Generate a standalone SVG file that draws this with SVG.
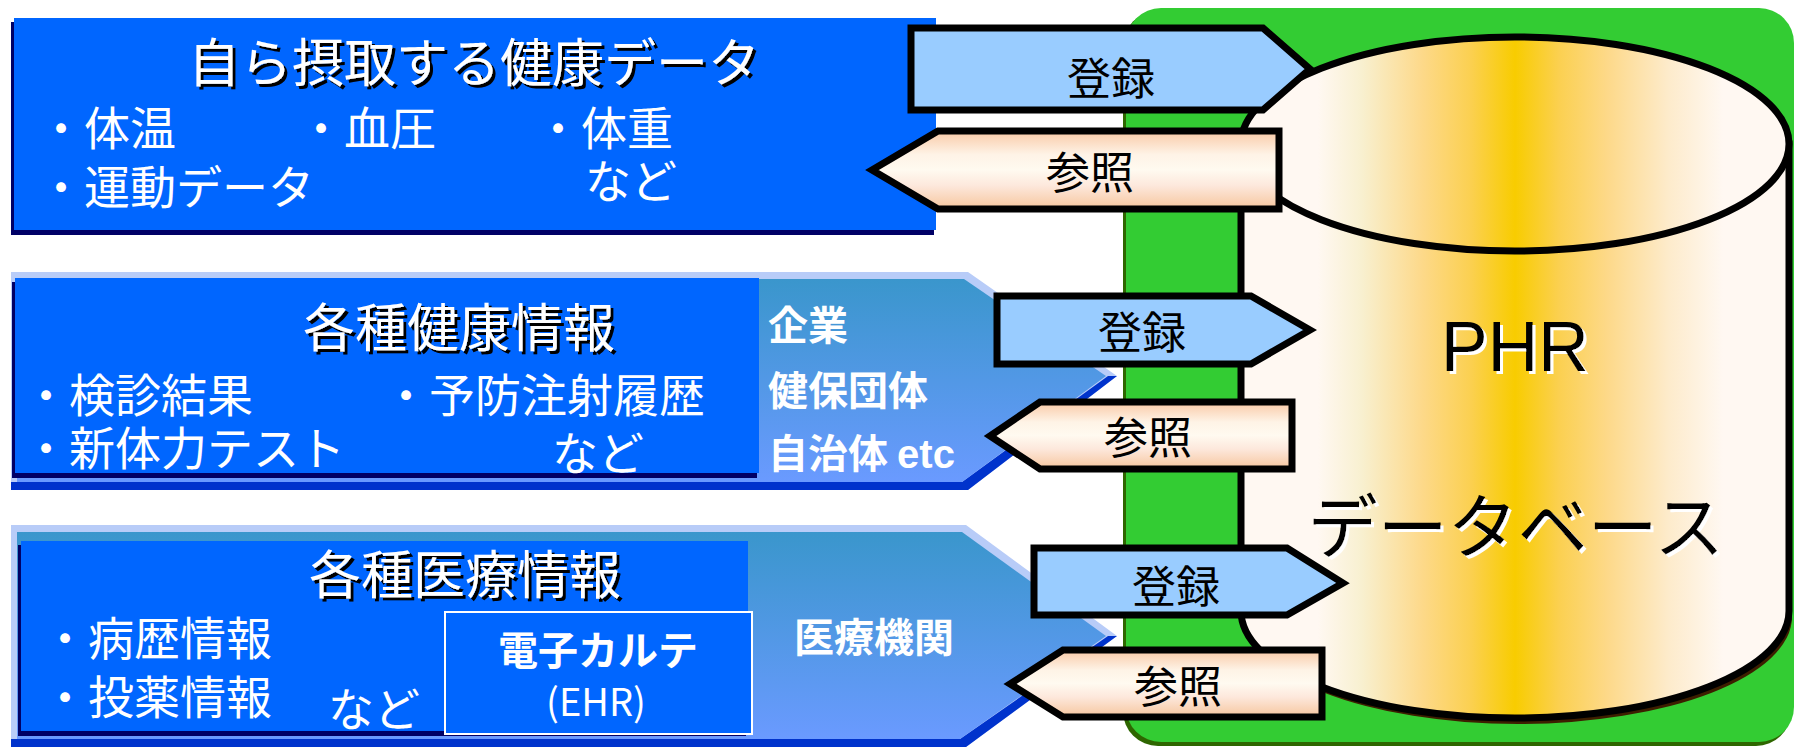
<svg xmlns="http://www.w3.org/2000/svg" width="1797" height="750" viewBox="0 0 1797 750">
<defs>
<style>
.jp{font-family:"Noto Sans CJK JP","Noto Sans",sans-serif}
.title{font-size:52px;fill:#fff;filter:url(#blk)}
.bul{font-size:46px;fill:#fff}
.org{font-size:40px;fill:#fff;font-weight:bold}
.ehr{font-size:38px;fill:#fff;font-weight:normal}
.lbl{font-size:44px;fill:#000;text-anchor:middle}
.db{font-size:70px;fill:#000;text-anchor:middle;filter:url(#wht)}
.reg{fill:#99CCFF;stroke:#000;stroke-width:7;stroke-linejoin:miter}
.ref{fill:url(#peach);stroke:#000;stroke-width:7;stroke-linejoin:miter}
.box{fill:#0066FF}
.boxsh{fill:#000066}
</style>
<filter id="blk" x="-10%" y="-20%" width="130%" height="150%">
<feDropShadow dx="3" dy="3" stdDeviation="0" flood-color="#000" flood-opacity="1"/>
</filter>
<filter id="wht" x="-10%" y="-20%" width="130%" height="150%">
<feDropShadow dx="3" dy="3" stdDeviation="0" flood-color="#fff" flood-opacity="1"/>
</filter>
<linearGradient id="peach" x1="0" y1="0" x2="0" y2="1">
<stop offset="0" stop-color="#F9C9A6"/>
<stop offset="0.3" stop-color="#FEF3E6"/>
<stop offset="0.5" stop-color="#FFFAF0"/>
<stop offset="0.7" stop-color="#FDE8DC"/>
<stop offset="1" stop-color="#F6C69E"/>
</linearGradient>
<linearGradient id="gold" x1="1241" y1="0" x2="1789" y2="0" gradientUnits="userSpaceOnUse">
<stop offset="0" stop-color="#FFF8F2"/>
<stop offset="0.14" stop-color="#FFF8F2"/>
<stop offset="0.22" stop-color="#F8F0D0"/>
<stop offset="0.33" stop-color="#FDD98A"/>
<stop offset="0.42" stop-color="#FBD050"/>
<stop offset="0.5" stop-color="#F8CC00"/>
<stop offset="0.58" stop-color="#FBD050"/>
<stop offset="0.67" stop-color="#FDD98A"/>
<stop offset="0.78" stop-color="#FDEBCB"/>
<stop offset="0.88" stop-color="#FFF8F2"/>
<stop offset="1" stop-color="#FFF8F2"/>
</linearGradient>
<linearGradient id="penta" x1="0" y1="0" x2="0" y2="1">
<stop offset="0" stop-color="#3A96CC"/>
<stop offset="1" stop-color="#6A9AFF"/>
</linearGradient>
</defs>

<g id="phr-database">
<rect x="1123" y="11" width="668" height="735" rx="35" fill="#2E6600"/>
<rect x="1126" y="8" width="668" height="734" rx="35" fill="#33CC33"/>
<path d="M1244,150 V617 A274,107 0 0 0 1792,617 V150 Z" fill="#3D1E00"/>
<path d="M1241,144 V611 A274,107 0 0 0 1789,611 V144 Z" fill="url(#gold)" stroke="#000" stroke-width="7"/>
<ellipse cx="1515" cy="144" rx="274" ry="107" fill="url(#gold)" stroke="#000" stroke-width="7"/>
<text class="db" x="1515" y="371" font-family="'Liberation Sans',Arial,sans-serif">PHR</text>
<text class="db jp" x="1516" y="553">データベース</text>
</g>

<g id="self-health-data">
<rect class="boxsh" x="11" y="22" width="923" height="213"/>
<rect class="box" x="14" y="18" width="922" height="212"/>
<text class="jp title" x="474" y="82" text-anchor="middle">自ら摂取する健康データ</text>
<text class="jp bul" x="38" y="145">・体温</text>
<text class="jp bul" x="298" y="145">・血圧</text>
<text class="jp bul" x="535" y="145">・体重</text>
<text class="jp bul" x="38" y="204">・運動データ</text>
<text class="jp bul" x="585" y="198">など</text>
</g>

<g id="health-info">
<polygon points="11,272 968,272 1117,376 968,490 11,490" fill="#B8CCF8"/>
<polygon points="11,482 962,482 1108,376 1117,376 968,490 11,490" fill="#0033CC"/>
<polygon points="17,279 964,279 1106,376 962,482 17,482" fill="url(#penta)"/>
<rect class="boxsh" x="12" y="282" width="745" height="196"/>
<rect class="box" x="15" y="278" width="744" height="195"/>
<text class="jp title" x="459" y="347" text-anchor="middle">各種健康情報</text>
<text class="jp bul" x="23" y="412">・検診結果</text>
<text class="jp bul" x="383" y="412">・予防注射履歴</text>
<text class="jp bul" x="23" y="465">・新体力テスト</text>
<text class="jp bul" x="552" y="470">など</text>
<text class="jp org" x="768" y="340">企業</text>
<text class="jp org" x="768" y="405">健保団体</text>
<text class="jp org" x="768" y="468">自治体 <tspan font-family="'Liberation Sans',Arial,sans-serif">etc</tspan></text>
</g>

<g id="medical-info">
<polygon points="11,525 966,525 1117,636 966,747 11,747" fill="#B8CCF8"/>
<polygon points="11,739 960,739 1108,636 1117,636 966,747 11,747" fill="#0033CC"/>
<polygon points="17,532 962,532 1106,636 960,739 17,739" fill="url(#penta)"/>
<rect class="boxsh" x="18" y="545" width="728" height="191"/>
<rect class="box" x="21" y="541" width="727" height="190"/>
<text class="jp title" x="465" y="594" text-anchor="middle">各種医療情報</text>
<text class="jp bul" x="42" y="655">・病歴情報</text>
<text class="jp bul" x="42" y="714">・投薬情報</text>
<text class="jp bul" x="328" y="726">など</text>
<rect x="445" y="612" width="307" height="122" fill="#0066FF" stroke="#fff" stroke-width="2"/>
<text class="jp org" x="598" y="665" text-anchor="middle">電子カルテ</text>
<text class="jp ehr" x="596" y="716" text-anchor="middle">(EHR)</text>
<text class="jp org" x="794" y="652">医療機関</text>
</g>

<g id="connectors">
<g id="register-1">
<polygon class="reg" points="911,28 1263,28 1310,69 1263,110 911,110"/>
<text class="jp lbl" x="1111" y="95">登録</text>
</g>
<g id="refer-1">
<polygon class="ref" points="1279,131 938,131 872,170 938,209 1279,209"/>
<text class="jp lbl" x="1090" y="189">参照</text>
</g>
<g id="register-2">
<polygon class="reg" points="997,296 1251,296 1310,330 1251,364 997,364"/>
<text class="jp lbl" x="1142" y="349">登録</text>
</g>
<g id="refer-2">
<polygon class="ref" points="1292,402 1040,402 990,436 1040,469 1292,469"/>
<text class="jp lbl" x="1148" y="454">参照</text>
</g>
<g id="register-3">
<polygon class="reg" points="1034,548 1287,548 1343,583 1287,615 1034,615"/>
<text class="jp lbl" x="1176" y="603">登録</text>
</g>
<g id="refer-3">
<polygon class="ref" points="1322,650 1063,650 1010,684 1063,717 1322,717"/>
<text class="jp lbl" x="1178" y="703">参照</text>
</g>
</g>
</svg>
